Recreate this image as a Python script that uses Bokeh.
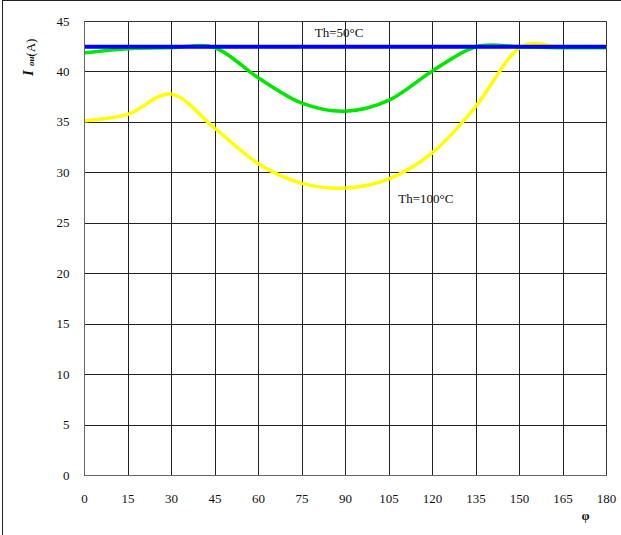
import math
from bokeh.plotting import figure
from bokeh.layouts import row, column
from bokeh.models import FixedTicker, Label
from bokeh.embed import file_html
from bokeh.resources import INLINE

# Output current vs. angle phi for two heat-sink temperatures
phi = [0, 15, 30, 45, 60, 75, 90, 105, 120, 135, 150, 165, 180]
i_limit = [42.5, 42.5, 42.5, 42.5, 42.5, 42.5, 42.5, 42.5, 42.5, 42.5, 42.5, 42.5, 42.5]
i_th50 = [41.9, 42.3, 42.4, 42.4, 39.4, 36.9, 36.1, 37.2, 40.1, 42.5, 42.5, 42.4, 42.4]
i_th100 = [35.15, 35.8, 37.8, 34.4, 30.9, 28.95, 28.5, 29.4, 32.0, 36.6, 42.4, 42.45, 42.45]

x_ticks = [0, 15, 30, 45, 60, 75, 90, 105, 120, 135, 150, 165, 180]
y_ticks = [0, 5, 10, 15, 20, 25, 30, 35, 40, 45]

SERIF = "Liberation Serif"


def smooth_segments(xs, ys):
    """Cubic Bezier control points for a smoothed line through (xs, ys)."""
    n = len(xs)
    seg = dict(x0=[], y0=[], x1=[], y1=[], cx0=[], cy0=[], cx1=[], cy1=[])
    for i in range(n - 1):
        p0 = max(i - 1, 0)
        p3 = min(i + 2, n - 1)
        seg["x0"].append(xs[i]); seg["y0"].append(ys[i])
        seg["x1"].append(xs[i + 1]); seg["y1"].append(ys[i + 1])
        seg["cx0"].append(xs[i] + (xs[i + 1] - xs[p0]) / 6)
        seg["cy0"].append(ys[i] + (ys[i + 1] - ys[p0]) / 6)
        seg["cx1"].append(xs[i + 1] - (xs[p3] - xs[i]) / 6)
        seg["cy1"].append(ys[i + 1] - (ys[p3] - ys[i]) / 6)
    return seg


def text_strip(width, height):
    """Blank figure whose frame fills the canvas, used to hold titles."""
    f = figure(width=width, height=height, x_range=(0, width),
               y_range=(height, 0), x_axis_type=None, y_axis_type=None,
               output_backend="svg", toolbar_location=None,
               title=None, min_border=0)
    f.outline_line_color = None
    f.grid.visible = False
    f.background_fill_color = "white"
    f.border_fill_color = "white"
    return f


def add_text(f, x, y, text, size, style="normal", angle=0.0, align="left"):
    f.add_layout(Label(x=x, y=y, text=text, angle=angle, text_font=SERIF,
                       text_font_size=size, text_font_style=style,
                       text_align=align, text_baseline="middle",
                       text_color="#111111"))


# main chart
p = figure(width=568, height=504, x_range=(0, 180), y_range=(0, 45),
           output_backend="svg", toolbar_location=None,
           min_border_left=30, min_border_right=15,
           min_border_top=20, min_border_bottom=29)
p.background_fill_color = "white"
p.border_fill_color = "white"
p.outline_line_color = "#333333"

for ax in (p.xaxis[0], p.yaxis[0]):
    ax.major_tick_line_color = None
    ax.minor_tick_line_color = None
    ax.axis_line_color = "#666666"
    ax.major_label_text_font = SERIF
    ax.major_label_text_font_size = "13px"
    ax.major_label_text_color = "#111111"
p.xaxis.ticker = FixedTicker(ticks=x_ticks)
p.yaxis.ticker = FixedTicker(ticks=y_ticks)
p.xaxis.major_label_standoff = 13
p.yaxis.major_label_standoff = 9

p.xgrid.ticker = FixedTicker(ticks=x_ticks)
p.ygrid.ticker = FixedTicker(ticks=y_ticks)
for g in (p.xgrid[0], p.ygrid[0]):
    g.grid_line_color = "#222222"
    g.grid_line_width = 1

p.bezier(**smooth_segments(phi, i_th100), line_color="#ffff00", line_width=3.5)
p.bezier(**smooth_segments(phi, i_th50), line_color="#00e600", line_width=3.5)
p.line(phi, i_limit, line_color="#0000ff", line_width=4)

add_text(p, 87.8, 43.95, "Th=50°C", "13px", align="center")
add_text(p, 117.7, 27.45, "Th=100°C", "13px", align="center")

# y-axis title strip: I_out (A), reading upwards
ystrip = text_strip(50, 504)
add_text(ystrip, 24.5, 60.5, "I", "15px", "bold italic", math.pi / 2)
add_text(ystrip, 27.5, 49.5, "out", "9px", "bold italic", math.pi / 2)
add_text(ystrip, 26.5, 39, "(A)", "13px", "normal", math.pi / 2)

# x-axis title strip
xstrip = text_strip(618, 30)
add_text(xstrip, 582, 10, "φ", "13px", "bold", 0.0, "center")

layout = column(row(ystrip, p, spacing=0), xstrip, spacing=0)
layout.styles = {"margin-left": "2px", "border-left": "1px solid #222",
                 "border-top": "1px solid #222"}

open("out.html", "w").write(file_html(layout, INLINE))
